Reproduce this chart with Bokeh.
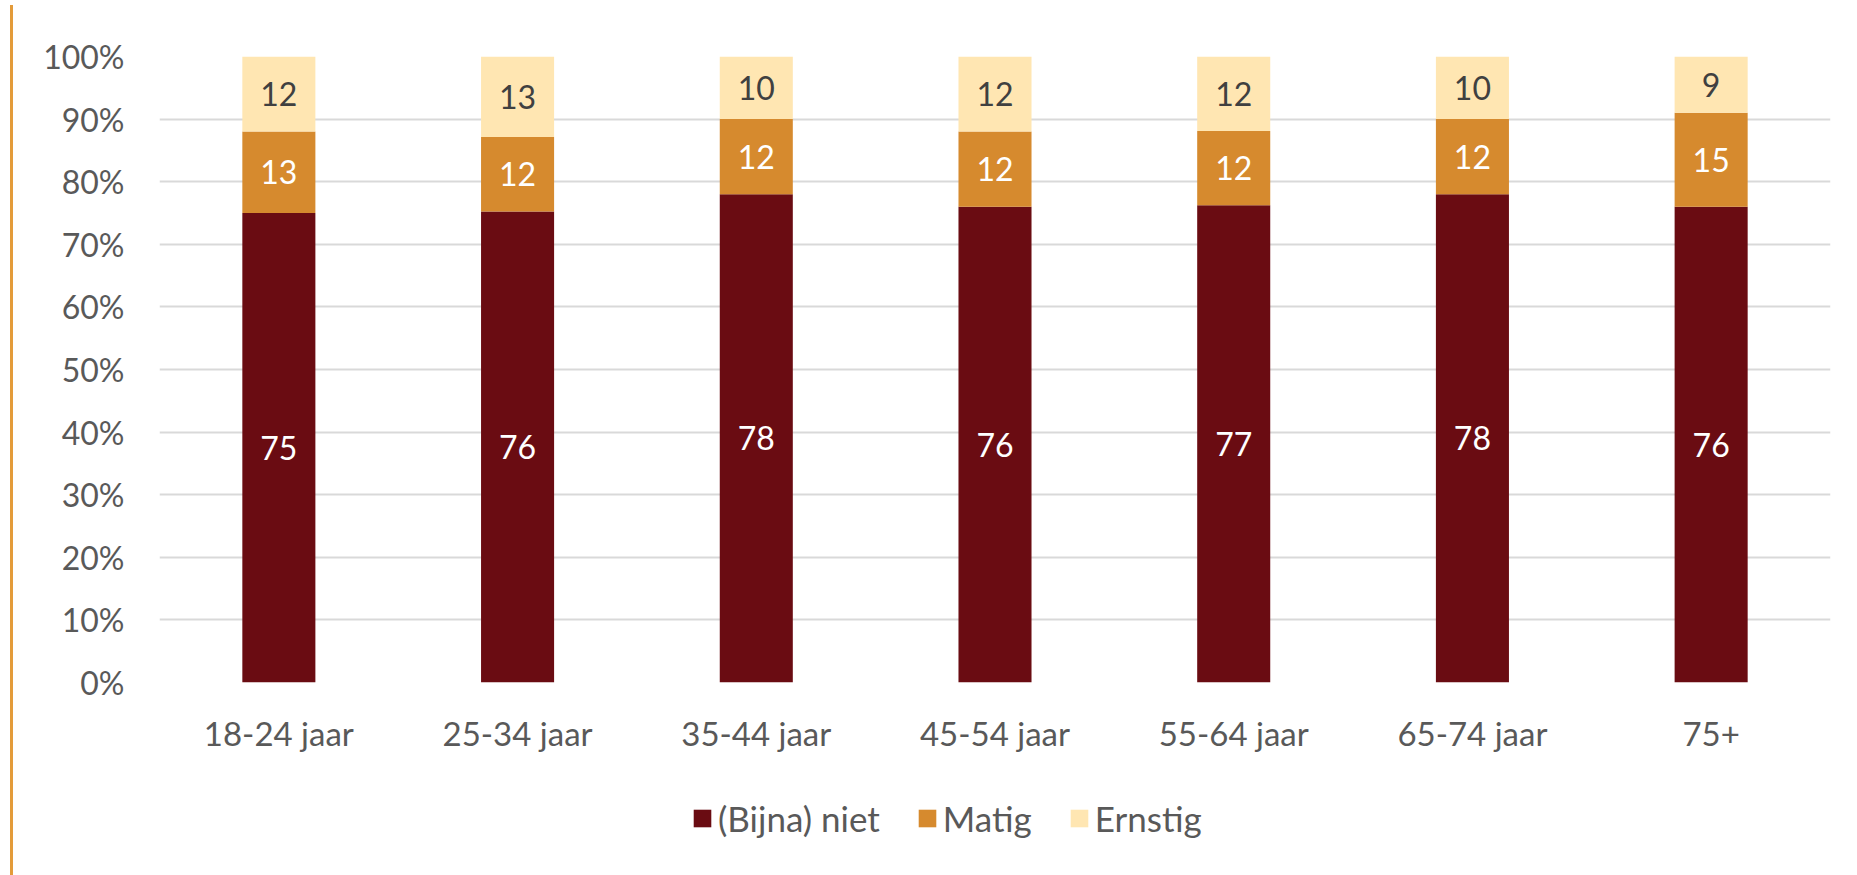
from bokeh.plotting import figure
from bokeh.models import (ColumnDataSource, FixedTicker, PrintfTickFormatter, Legend,
                          LegendItem, Div, Spacer, Range1d, FactorRange)
from bokeh.layouts import row, column
from bokeh.core.properties import value
from bokeh.embed import file_html
from bokeh.resources import INLINE

categories = ["18-24 jaar", "25-34 jaar", "35-44 jaar", "45-54 jaar",
              "55-64 jaar", "65-74 jaar", "75+"]
niet = [75, 76, 78, 76, 77, 78, 76]
matig = [13, 12, 12, 12, 12, 12, 15]
ernstig = [12, 13, 10, 12, 12, 10, 9]
series_names = ["(Bijna) niet", "Matig", "Ernstig"]
colors = ["#6A0C12", "#D68A2E", "#FFE6B2"]
label_colors = ["#FFFFFF", "#FFFFFF", "#404040"]

FONT = "Lato"

# normalise to 100% stacked
tot = [a + b + c for a, b, c in zip(niet, matig, ernstig)]
n_niet = [a / t * 100 for a, t in zip(niet, tot)]
n_matig = [a / t * 100 for a, t in zip(matig, tot)]
n_ernstig = [a / t * 100 for a, t in zip(ernstig, tot)]

src = ColumnDataSource(dict(cat=categories, niet=n_niet, matig=n_matig, ernstig=n_ernstig))

W = 1833
p = figure(x_range=FactorRange(*categories, range_padding=0), y_range=Range1d(0, 100),
           width=W, height=777, output_backend="svg", toolbar_location=None,
           min_border_left=141, min_border_right=21, min_border_top=56,
           min_border_bottom=95)
p.x_range.factor_padding = 0
p.outline_line_color = None
p.background_fill_color = "white"
p.border_fill_color = "white"

renderers = p.vbar_stack(["niet", "matig", "ernstig"], x="cat", width=0.306,
                         source=src, color=colors, line_color=None)

# segment labels
raw = [niet, matig, ernstig]
norm = [n_niet, n_matig, n_ernstig]
base = [0.0] * len(categories)
for k in range(3):
    mids = [b + v / 2 for b, v in zip(base, norm[k])]
    lsrc = ColumnDataSource(dict(cat=categories, y=mids, t=[str(v) for v in raw[k]]))
    p.text(x="cat", y="y", text="t", source=lsrc, text_align="center",
           text_baseline="middle", text_font=value(FONT), text_font_size="32px",
           text_color=label_colors[k])
    base = [b + v for b, v in zip(base, norm[k])]

# axes
p.yaxis.ticker = FixedTicker(ticks=list(range(0, 101, 10)))
p.yaxis.formatter = PrintfTickFormatter(format="%d%%")
p.yaxis.axis_line_color = None
p.yaxis.major_tick_line_color = None
p.yaxis.minor_tick_line_color = None
p.yaxis.major_tick_out = 0
p.yaxis.major_label_standoff = 35
p.yaxis.major_label_text_font = FONT
p.yaxis.major_label_text_font_size = "32px"
p.yaxis.major_label_text_color = "#595959"

p.xaxis.axis_line_color = None
p.xaxis.major_tick_line_color = None
p.xaxis.major_tick_out = 0
p.xaxis.major_label_standoff = 30
p.xaxis.major_label_text_font = FONT
p.xaxis.major_label_text_font_size = "33px"
p.xaxis.major_label_text_color = "#595959"

p.xgrid.grid_line_color = None
p.ygrid.grid_line_color = "#D9D9D9"
p.ygrid.grid_line_width = 2
p.ygrid.ticker = FixedTicker(ticks=list(range(0, 101, 10)))

# legend figure below the chart (its glyph renderers sit outside the visible range)
lp = figure(width=W, height=90, x_range=Range1d(0, 1), y_range=Range1d(0, 1),
            output_backend="svg", toolbar_location=None,
            min_border_left=0, min_border_right=0, min_border_top=0, min_border_bottom=0)
lp.axis.visible = False
lp.grid.grid_line_color = None
lp.outline_line_color = None
lp_renderers = [lp.vbar(x=[-5], top=[-5], width=0.5, color=colors[i], line_color=None)
                for i in range(3)]
items = [LegendItem(label=series_names[i], renderers=[lp_renderers[i]]) for i in range(3)]
legend = Legend(items=items, orientation="horizontal", location=(532, 28),
                glyph_width=22, glyph_height=22, label_standoff=5, spacing=36,
                padding=0, margin=0, border_line_color=None, background_fill_alpha=0,
                label_text_font=FONT, label_text_font_size="35px",
                label_text_color="#595959")
lp.add_layout(legend, "center")

line = Div(width=3, height=875, styles={"background-color": "#E39B3A"})
layout = row(Spacer(width=5, height=867), line, column(p, lp))

open("out.html", "w").write(file_html(layout, INLINE))
